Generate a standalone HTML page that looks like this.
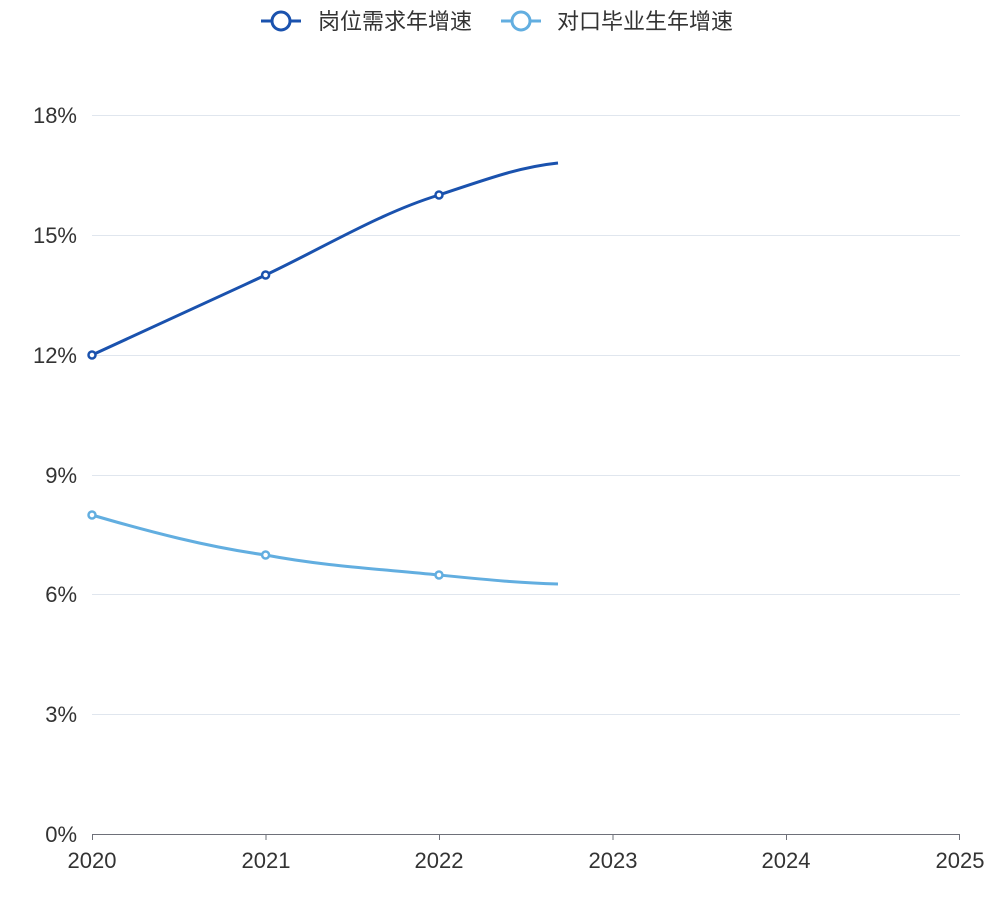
<!DOCTYPE html>
<html><head><meta charset="utf-8"><style>
html,body{margin:0;padding:0;background:#fff;}
svg{display:block;font-family:"Liberation Sans","Noto Sans CJK SC",sans-serif;}
</style></head><body>
<svg width="1000" height="900" viewBox="0 0 1000 900">
<g stroke="#e0e6ee" stroke-width="1">
<line x1="92" y1="115.5" x2="960" y2="115.5"/>
<line x1="92" y1="235.5" x2="960" y2="235.5"/>
<line x1="92" y1="355.5" x2="960" y2="355.5"/>
<line x1="92" y1="475.5" x2="960" y2="475.5"/>
<line x1="92" y1="594.5" x2="960" y2="594.5"/>
<line x1="92" y1="714.5" x2="960" y2="714.5"/>
</g>
<line x1="92" y1="834.5" x2="960" y2="834.5" stroke="#6e7079" stroke-width="1"/>
<g stroke="#6e7079" stroke-width="1">
<line x1="92.5" y1="834" x2="92.5" y2="840"/>
<line x1="266" y1="834" x2="266" y2="840"/>
<line x1="439.5" y1="834" x2="439.5" y2="840"/>
<line x1="613" y1="834" x2="613" y2="840"/>
<line x1="786.5" y1="834" x2="786.5" y2="840"/>
<line x1="959.5" y1="834" x2="959.5" y2="840"/>
</g>
<g font-size="22" fill="#333" text-anchor="end">
<text x="77" y="123">18%</text>
<text x="77" y="243">15%</text>
<text x="77" y="363">12%</text>
<text x="77" y="483">9%</text>
<text x="77" y="602">6%</text>
<text x="77" y="722">3%</text>
<text x="77" y="842">0%</text>
</g>
<g font-size="22" fill="#333" text-anchor="middle">
<text x="92" y="868">2020</text>
<text x="266" y="868">2021</text>
<text x="439" y="868">2022</text>
<text x="613" y="868">2023</text>
<text x="786" y="868">2024</text>
<text x="960" y="868">2025</text>
</g>
<path d="M92,355 C150,328 208,302 265.6,275 C323,248 380,213 439,195 C490,178 520,167 558,163" fill="none" stroke="#1a52ae" stroke-width="3"/>
<path d="M92,515 C150,532 208,547 265.6,555 C323,566 380,569 439,575 C490,580 520,583 558,584" fill="none" stroke="#62aee0" stroke-width="3"/>
<g fill="#fff" stroke="#1a52ae" stroke-width="2.5">
<circle cx="92" cy="355" r="3.5"/><circle cx="265.6" cy="275" r="3.5"/><circle cx="439" cy="195" r="3.5"/>
</g>
<g fill="#fff" stroke="#62aee0" stroke-width="2.5">
<circle cx="92" cy="515" r="3.5"/><circle cx="265.6" cy="555" r="3.5"/><circle cx="439" cy="575" r="3.5"/>
</g>
<line x1="261" y1="21" x2="301" y2="21" stroke="#1a52ae" stroke-width="3"/>
<circle cx="281" cy="21" r="9" fill="#fff" stroke="#1a52ae" stroke-width="3"/>
<text x="318" y="29" font-size="22" fill="#333">岗位需求年增速</text>
<line x1="501" y1="21" x2="541" y2="21" stroke="#62aee0" stroke-width="3"/>
<circle cx="521" cy="21" r="9" fill="#fff" stroke="#62aee0" stroke-width="3"/>
<text x="557" y="29" font-size="22" fill="#333">对口毕业生年增速</text>
</svg>
</body></html>
